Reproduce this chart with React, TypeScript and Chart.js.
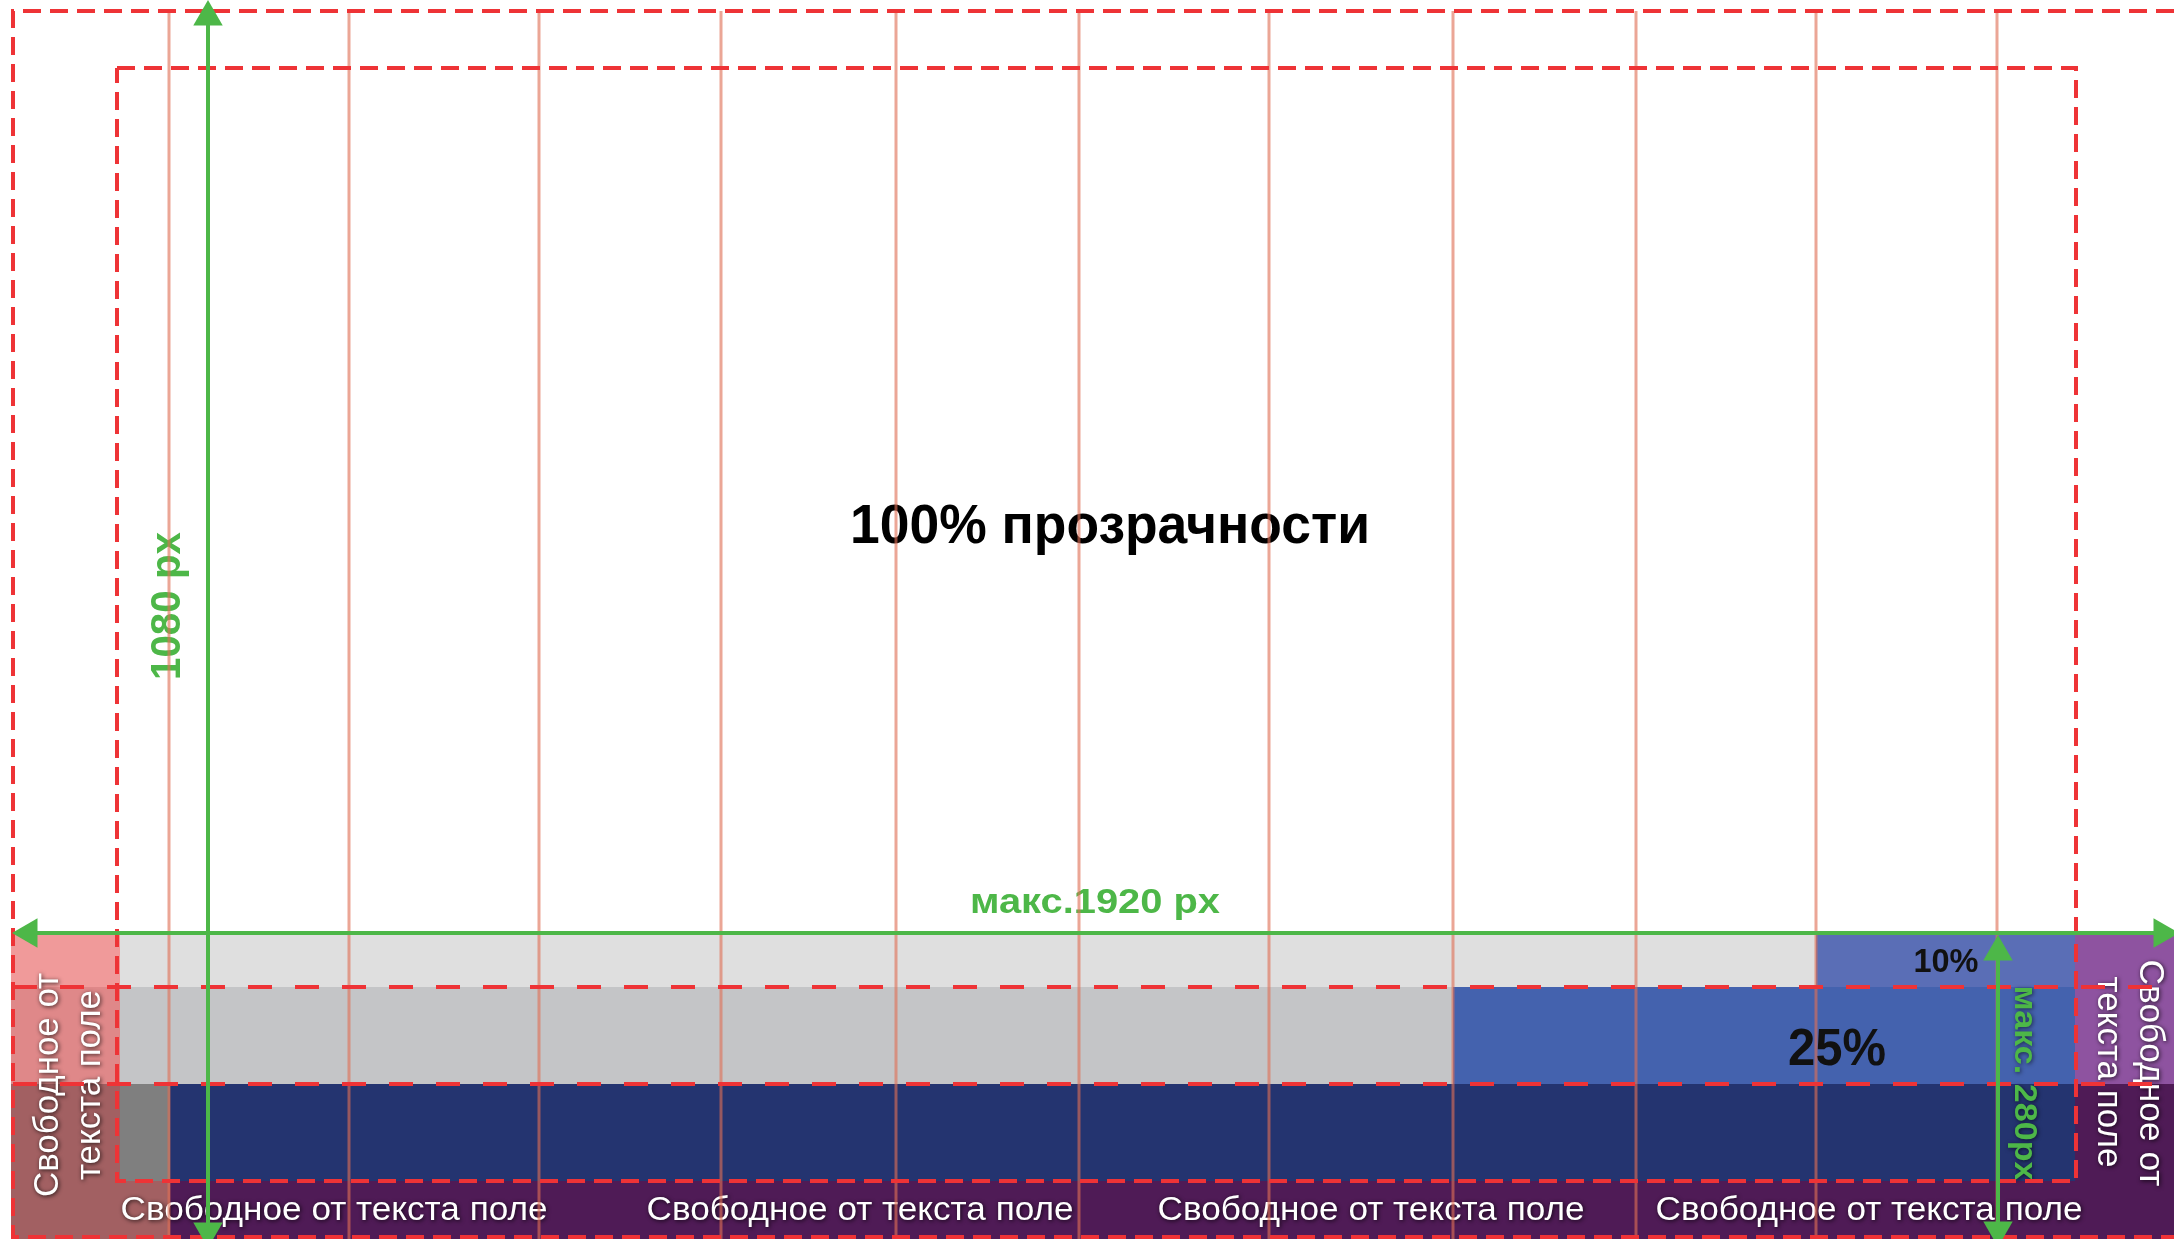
import React, { useEffect, useRef } from "react";
import { Chart, registerables } from "chart.js";

Chart.register(...registerables);

const CANVAS_W = 2174;
const CANVAS_H = 1239;

// ---------- design measurements (px) ----------
const guideColumns = [169, 349, 539, 721, 896, 1079, 1269, 1453, 1636, 1816, 1997];
const guideTop = 11;

const bandEdges = [935, 987, 1084, 1181, 1239];
const topBandBreaks = [11, 120, 1816, 2075, 2174];
const middleBandBreaks = [11, 120, 1453, 2075, 2174];
const lowerBandBreaks = [11, 120, 170, 2075, 2174];
const footerBandBreaks = [11, 170, 2174];

const outerFrameX = [2174, 13, 13, 2174];
const outerFrameY = [11, 11, 1237, 1237];
const innerFrameX = [117, 2076, 2076, 117, 117];
const innerFrameY = [68, 68, 1181, 1181, 68];
const dividerSpanX = [13, 2174];

const widthArrowX = [29, 2162];
const widthArrowY = 933;
const heightArrowX = 208;
const heightArrowY = [17, 1231];
const stripArrowX = 1998;
const stripArrowY = [952, 1230];

// ---------- texts ----------
const titleText = "100% прозрачности";
const widthText = "макс.1920 px";
const heightText = "1080 px";
const stripText = "макс. 280px";
const percentLabels = ["10%", "25%"];
const sideFieldLines = ["Свободное от", "текста поле"];
const footerLabels = [
  "Свободное от текста поле",
  "Свободное от текста поле",
  "Свободное от текста поле",
  "Свободное от текста поле",
];
const footerLabelX = [334, 860, 1371, 1869];

// ---------- colours ----------
const topBandColors = ["#F09A9A", "#DFDFDF", "#5A6EB6", "#8E53A0"];
const middleBandColors = ["#DF8889", "#C4C5C7", "#4462AE", "#8E53A0"];
const lowerBandColors = ["#A26062", "#7F7F7F", "#243470", "#4F1B56"];
const footerBandColors = ["#A26062", "#4F1B56"];
const GREEN = "#4DB748";
const RED = "#EE3336";
const GUIDE = "rgba(222,112,86,0.62)";
const FONT = '"Liberation Sans", Arial, sans-serif';

type Label = {
  text: string;
  x: number;
  y: number;
  rot: number;
  size: number;
  bold: boolean;
  width: number;
  color: string;
  shadow?: string;
};

const WHITE_SHADOW = "rgba(0,0,0,0.8)";

const labels: Label[] = [
  { text: titleText, x: 1110, y: 543, rot: 0, size: 56, bold: true, width: 520, color: "#000" },
  { text: widthText, x: 1095, y: 913, rot: 0, size: 35, bold: true, width: 250, color: GREEN },
  { text: heightText, x: 180, y: 606, rot: -90, size: 43, bold: true, width: 148, color: GREEN },
  { text: percentLabels[0], x: 1946, y: 972, rot: 0, size: 33, bold: true, width: 65, color: "#111" },
  { text: percentLabels[1], x: 1837, y: 1065, rot: 0, size: 51, bold: true, width: 98, color: "#111" },
  { text: stripText, x: 2015, y: 1083, rot: 90, size: 32, bold: true, width: 195, color: GREEN, shadow: "rgba(0,0,0,0.6)" },
  { text: sideFieldLines[0], x: 58, y: 1085, rot: -90, size: 35, bold: false, width: 224, color: "#fff", shadow: WHITE_SHADOW },
  { text: sideFieldLines[1], x: 100, y: 1085, rot: -90, size: 35, bold: false, width: 190, color: "#fff", shadow: WHITE_SHADOW },
  { text: sideFieldLines[0], x: 2140, y: 1073, rot: 90, size: 35, bold: false, width: 227, color: "#fff", shadow: WHITE_SHADOW },
  { text: sideFieldLines[1], x: 2098, y: 1072, rot: 90, size: 35, bold: false, width: 191, color: "#fff", shadow: WHITE_SHADOW },
  ...footerLabels.map((t, i) => ({
    text: t,
    x: footerLabelX[i],
    y: 1220,
    rot: 0,
    size: 34,
    bold: false,
    width: 427,
    color: "#fff",
    shadow: WHITE_SHADOW,
  })),
];

function bandDatasets(breaks: number[], colors: string[], y0: number, y1: number) {
  return colors.map((c, i) => ({
    label: "band",
    data: [
      { x: breaks[i], y: y0 },
      { x: breaks[i + 1], y: y0 },
    ],
    fill: { value: y1 },
    backgroundColor: c,
    borderColor: "transparent",
    borderWidth: 0,
    pointRadius: 0,
    order: 100,
  }));
}

function zip(xs: number[], ys: number[]) {
  return xs.map((x, i) => ({ x, y: ys[i] }));
}

const labelPlugin = {
  id: "designLabels",
  beforeDatasetDraw(chart: any, args: any) {
    if (chart.data.datasets[args.index].label !== "guides") return;
    const ctx: CanvasRenderingContext2D = chart.ctx;
    const xs = chart.scales.x;
    const ys = chart.scales.y;
    for (const L of labels) {
      const px = xs.getPixelForValue(L.x);
      const py = ys.getPixelForValue(L.y);
      ctx.save();
      ctx.translate(px, py);
      ctx.rotate((L.rot * Math.PI) / 180);
      ctx.font = `${L.bold ? "bold " : ""}${L.size}px ${FONT}`;
      const w = ctx.measureText(L.text).width;
      ctx.scale(L.width / w, 1);
      ctx.textAlign = "center";
      ctx.textBaseline = "alphabetic";
      if (L.shadow) {
        ctx.shadowColor = L.shadow;
        ctx.shadowBlur = 4;
        ctx.shadowOffsetX = 1;
        ctx.shadowOffsetY = 1;
      }
      ctx.fillStyle = L.color;
      ctx.fillText(L.text, 0, 0);
      ctx.restore();
    }
  },
};

export default function App() {
  const ref = useRef<HTMLCanvasElement>(null);

  useEffect(() => {
    document.body.style.margin = "0";
    const canvas = ref.current;
    if (!canvas) return;

    const guideData: any[] = [];
    guideColumns.forEach((x) => {
      guideData.push({ x, y: guideTop }, { x, y: CANVAS_H }, { x, y: null });
    });

    const dividerData = [
      { x: dividerSpanX[0], y: bandEdges[1] },
      { x: dividerSpanX[1], y: bandEdges[1] },
      { x: dividerSpanX[1], y: null },
      { x: dividerSpanX[0], y: bandEdges[2] },
      { x: dividerSpanX[1], y: bandEdges[2] },
    ];

    const arrowBase = {
      borderColor: GREEN,
      borderWidth: 4,
      pointStyle: "triangle",
      pointRadius: 17,
      pointBackgroundColor: GREEN,
      pointBorderColor: GREEN,
      pointBorderWidth: 0,
      order: 10,
    };

    const datasets: any[] = [
      ...bandDatasets(topBandBreaks, topBandColors, bandEdges[0], bandEdges[1]),
      ...bandDatasets(middleBandBreaks, middleBandColors, bandEdges[1], bandEdges[2]),
      ...bandDatasets(lowerBandBreaks, lowerBandColors, bandEdges[2], bandEdges[3]),
      ...bandDatasets(footerBandBreaks, footerBandColors, bandEdges[3], bandEdges[4]),
      {
        label: "guides",
        data: guideData,
        borderColor: GUIDE,
        borderWidth: 3,
        pointRadius: 0,
        fill: false,
        order: 40,
      },
      {
        label: "outerFrame",
        data: zip(outerFrameX, outerFrameY),
        borderColor: RED,
        borderWidth: 4,
        borderDash: [18, 9],
        pointRadius: 0,
        fill: false,
        order: 30,
      },
      {
        label: "innerFrame",
        data: zip(innerFrameX, innerFrameY),
        borderColor: RED,
        borderWidth: 4,
        borderDash: [18, 9],
        pointRadius: 0,
        fill: false,
        order: 30,
      },
      {
        label: "dividers",
        data: dividerData,
        borderColor: RED,
        borderWidth: 4,
        borderDash: [24, 23],
        pointRadius: 0,
        fill: false,
        order: 30,
      },
      {
        ...arrowBase,
        label: "widthArrow",
        data: widthArrowX.map((x) => ({ x, y: widthArrowY })),
        pointRotation: [-90, 90],
      },
      {
        ...arrowBase,
        label: "heightArrow",
        data: heightArrowY.map((y) => ({ x: heightArrowX, y })),
        pointRotation: [0, 180],
      },
      {
        ...arrowBase,
        label: "stripArrow",
        data: stripArrowY.map((y) => ({ x: stripArrowX, y })),
        pointRotation: [0, 180],
      },
    ];

    const chart = new Chart(canvas, {
      type: "line",
      data: { datasets },
      options: {
        responsive: false,
        animation: false,
        devicePixelRatio: 1,
        events: [],
        layout: { padding: 0, autoPadding: false },
        spanGaps: false,
        plugins: {
          legend: { display: false },
          tooltip: { enabled: false },
          title: { display: false },
        },
        elements: {
          point: { radius: 0, hoverRadius: 0 },
          line: { tension: 0, borderCapStyle: "butt" },
        },
        scales: {
          x: { type: "linear", min: 0, max: CANVAS_W, display: false },
          y: { type: "linear", min: 0, max: CANVAS_H, reverse: true, display: false },
        },
      } as any,
      plugins: [labelPlugin],
    });

    return () => chart.destroy();
  }, []);

  return (
    <div style={{ position: "absolute", left: 0, top: 0, width: CANVAS_W, height: CANVAS_H, background: "#fff" }}>
      <canvas ref={ref} width={CANVAS_W} height={CANVAS_H} style={{ display: "block" }} />
    </div>
  );
}
